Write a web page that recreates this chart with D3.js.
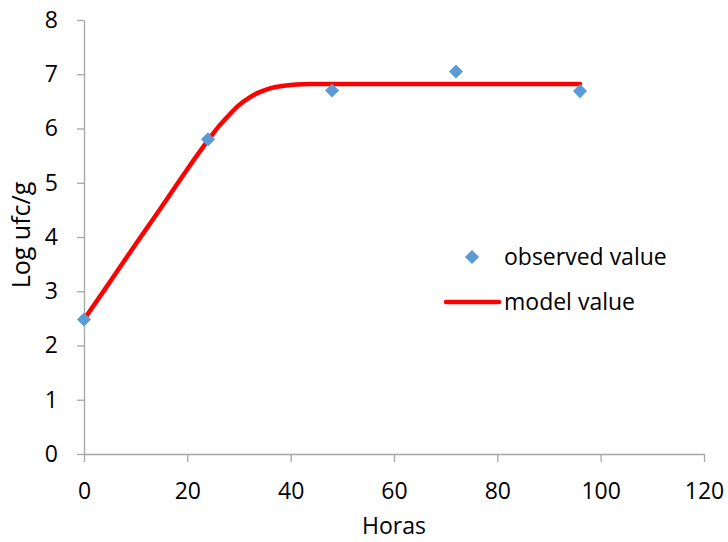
<!DOCTYPE html>
<html>
<head>
<meta charset="utf-8">
<script src="https://cdn.jsdelivr.net/npm/d3@7"></script>
<style>
  html, body { margin: 0; padding: 0; background: #fff; }
  svg { display: block; font-family: 'Open Sans', sans-serif; }
</style>
</head>
<body>
<script>
const width = 728
const height = 542
const margin = { top: 20, right: 24, bottom: 88, left: 84 }

// observed points
const obsHours = [0, 24, 48, 72, 96]
const obsValues = [2.48, 5.8, 6.7, 7.05, 6.69]

// model curve
const modelHours = [0, 4, 8, 12, 16, 20, 24, 26, 28, 30, 32, 34, 36, 38, 40, 44, 48, 60, 72, 84, 96]
const modelValues = [2.48, 3.03, 3.59, 4.14, 4.69, 5.25, 5.78, 6.03, 6.24, 6.43, 6.57, 6.67, 6.74, 6.78, 6.80, 6.82, 6.82, 6.82, 6.82, 6.82, 6.82]

const xTicks = [0, 20, 40, 60, 80, 100, 120]
const yTicks = [0, 1, 2, 3, 4, 5, 6, 7, 8]

const axisColor = '#a6a6a6'
const fontSize = 23

const svg = d3.select('body').append('svg')
    .attr('width', width)
    .attr('height', height)

const x = d3.scaleLinear().domain([0, 120]).range([margin.left, width - margin.right])
const y = d3.scaleLinear().domain([0, 8]).range([height - margin.bottom, margin.top])

// y axis
const yAxis = svg.append('g')
    .attr('transform', `translate(${margin.left},0)`)
    .call(d3.axisLeft(y).tickValues(yTicks).tickSize(7).tickSizeOuter(0).tickPadding(19))
yAxis.select('.domain').attr('stroke', axisColor).attr('stroke-width', 1.3)
yAxis.selectAll('.tick line').attr('stroke', axisColor).attr('stroke-width', 1.3)
yAxis.selectAll('.tick text')
    .attr('font-size', fontSize)
    .attr('font-family', 'Open Sans, sans-serif')
    .attr('fill', '#000')

// x axis
const xAxis = svg.append('g')
    .attr('transform', `translate(0,${height - margin.bottom})`)
    .call(d3.axisBottom(x).tickValues(xTicks).tickSize(8).tickSizeOuter(0).tickPadding(21))
xAxis.select('.domain').attr('stroke', axisColor).attr('stroke-width', 1.3)
xAxis.selectAll('.tick line').attr('stroke', axisColor).attr('stroke-width', 1.3)
xAxis.selectAll('.tick text')
    .attr('font-size', fontSize)
    .attr('font-family', 'Open Sans, sans-serif')
    .attr('fill', '#000')

// axis titles
svg.append('text')
    .attr('x', 394)
    .attr('y', 534)
    .attr('text-anchor', 'middle')
    .attr('font-size', fontSize)
    .text('Horas')

svg.append('text')
    .attr('transform', 'translate(30,235) rotate(-90)')
    .attr('text-anchor', 'middle')
    .attr('font-size', 25)
    .text('Log ufc/g')

// model line
const modelData = modelHours.map((h, i) => [h, modelValues[i]])
const line = d3.line()
    .x(d => x(d[0]))
    .y(d => y(d[1]))
    .curve(d3.curveMonotoneX)

svg.append('path')
    .datum(modelData)
    .attr('d', line)
    .attr('fill', 'none')
    .attr('stroke', '#ff0000')
    .attr('stroke-width', 4.5)
    .attr('stroke-linecap', 'round')
    .attr('stroke-linejoin', 'round')

// observed diamonds
const diamond = d3.symbol().type(d3.symbolSquare).size(100)
svg.append('g')
    .selectAll('path')
    .data(obsHours.map((h, i) => [h, obsValues[i]]))
    .join('path')
    .attr('d', diamond)
    .attr('transform', d => `translate(${x(d[0])},${y(d[1])}) rotate(45)`)
    .attr('fill', '#5b9bd5')

// legend
const legend = svg.append('g')
legend.append('path')
    .attr('d', diamond)
    .attr('transform', 'translate(472,257) rotate(45)')
    .attr('fill', '#5b9bd5')
legend.append('text')
    .attr('x', 504)
    .attr('y', 257)
    .attr('dy', '0.35em')
    .attr('font-size', fontSize)
    .text('observed value')
legend.append('line')
    .attr('x1', 446).attr('x2', 499)
    .attr('y1', 302).attr('y2', 302)
    .attr('stroke', '#ff0000')
    .attr('stroke-width', 4.5)
    .attr('stroke-linecap', 'round')
legend.append('text')
    .attr('x', 504)
    .attr('y', 302)
    .attr('dy', '0.35em')
    .attr('font-size', fontSize)
    .text('model value')
</script>
</body>
</html>
